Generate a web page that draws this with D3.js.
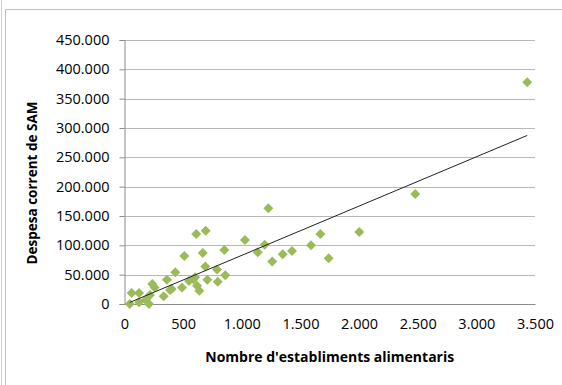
<!DOCTYPE html>
<html>
<head>
<meta charset="utf-8">
<script src="https://cdn.jsdelivr.net/npm/d3@7"></script>
<style>
  html, body { margin: 0; padding: 0; background: #fff; }
  svg { display: block; }
</style>
</head>
<body>
<div id="chart"></div>
<script>
// Nombre d'establiments alimentaris (x) vs despesa corrent de SAM (y)
const establiments = [45, 61, 124, 124, 181, 209, 217, 237, 257, 334, 362, 388, 402, 433,
  490, 510, 550, 587, 601, 618, 612, 638, 667, 689, 692, 706, 789, 795, 851, 859,
  1027, 1136, 1195, 1226, 1260, 1349, 1428, 1590, 1670, 1741, 2002, 2479, 3434];
const despesa = [0, 18700, 18700, 2800, 7300, 0, 15300, 34000, 28300, 13000, 41400, 23900, 25500, 54000,
  28300, 81800, 39200, 42000, 45400, 31200, 119300, 22700, 87000, 64100, 125000, 41400, 59000, 38000, 92000, 48800,
  109000, 88000, 101000, 163000, 72600, 84600, 90300, 100000, 119300, 77800, 122700, 187500, 377800];
const xTicks = [0, 500, 1000, 1500, 2000, 2500, 3000, 3500];
const yTicks = [0, 50000, 100000, 150000, 200000, 250000, 300000, 350000, 400000, 450000];
const xTitle = "Nombre d'establiments alimentaris";
const yTitle = 'Despesa corrent de SAM';

const width = 562, height = 385;
const plot = { left: 124.5, right: 535, top: 40, bottom: 304 };

const fmt = v => d3.format(',')(v).replace(/,/g, '.');

const svg = d3.select('#chart').append('svg')
  .attr('width', width)
  .attr('height', height);

// chart frame (Excel style)
svg.append('line').attr('x1', 1.5).attr('x2', 1.5).attr('y1', 0).attr('y2', height)
  .attr('stroke', '#cfcfcf');
svg.append('path')
  .attr('d', `M5.5,${height}V9.5H${width}`)
  .attr('fill', 'none')
  .attr('stroke', '#bfbfbf');

const x = d3.scaleLinear().domain([0, 3500]).range([plot.left, plot.right]);
const y = d3.scaleLinear().domain([0, 450000]).range([plot.bottom, plot.top]);

// gridlines
svg.append('g')
  .selectAll('line')
  .data(yTicks.filter(d => d > 0))
  .join('line')
  .attr('x1', plot.left).attr('x2', plot.right)
  .attr('y1', d => Math.round(y(d)) + 0.5).attr('y2', d => Math.round(y(d)) + 0.5)
  .attr('stroke', '#b8b8b8');

// y axis
const yAxis = svg.append('g')
  .attr('transform', `translate(${plot.left},0)`)
  .call(d3.axisLeft(y).tickValues(yTicks).tickFormat(fmt).tickSize(5).tickPadding(10));
// x axis
const xAxis = svg.append('g')
  .attr('transform', `translate(0,${plot.bottom})`)
  .call(d3.axisBottom(x).tickValues(xTicks).tickFormat(fmt).tickSize(0).tickPadding(15));

[yAxis, xAxis].forEach(a => {
  a.select('.domain').attr('stroke', '#8c8c8c');
  a.selectAll('.tick line').attr('stroke', '#8c8c8c');
  a.selectAll('text')
    .attr('fill', '#000')
    .style('font-family', "'Open Sans', sans-serif")
    .style('font-size', '14.5px');
});

// points
const pts = establiments.map((v, i) => ({ x: v, y: despesa[i] }));
svg.append('g')
  .selectAll('path')
  .data(pts)
  .join('path')
  .attr('transform', d => `translate(${x(d.x)},${y(d.y)})`)
  .attr('d', 'M0,-5L5,0L0,5L-5,0Z')
  .attr('fill', '#9bbb59');

// linear trendline (least squares)
const mx = d3.mean(establiments), my = d3.mean(despesa);
const sxy = d3.sum(pts, d => (d.x - mx) * (d.y - my));
const sxx = d3.sum(pts, d => (d.x - mx) ** 2);
const slope = sxy / sxx, intercept = my - slope * mx;
const ext = d3.extent(establiments);
svg.append('line')
  .attr('x1', x(ext[0])).attr('y1', y(slope * ext[0] + intercept))
  .attr('x2', x(ext[1])).attr('y2', y(slope * ext[1] + intercept))
  .attr('stroke', '#222')
  .attr('stroke-width', 1);

// axis titles
svg.append('text')
  .attr('x', (plot.left + plot.right) / 2)
  .attr('y', 362)
  .attr('text-anchor', 'middle')
  .style('font-family', "'Open Sans', sans-serif")
  .style('font-size', '14px')
  .style('font-weight', 'bold')
  .text(xTitle);
svg.append('text')
  .attr('transform', `translate(37,${(plot.top + plot.bottom) / 2 + 11}) rotate(-90)`)
  .attr('text-anchor', 'middle')
  .style('font-family', "'Open Sans', sans-serif")
  .style('font-size', '13.5px')
  .style('font-weight', 'bold')
  .text(yTitle);
</script>
</body>
</html>
